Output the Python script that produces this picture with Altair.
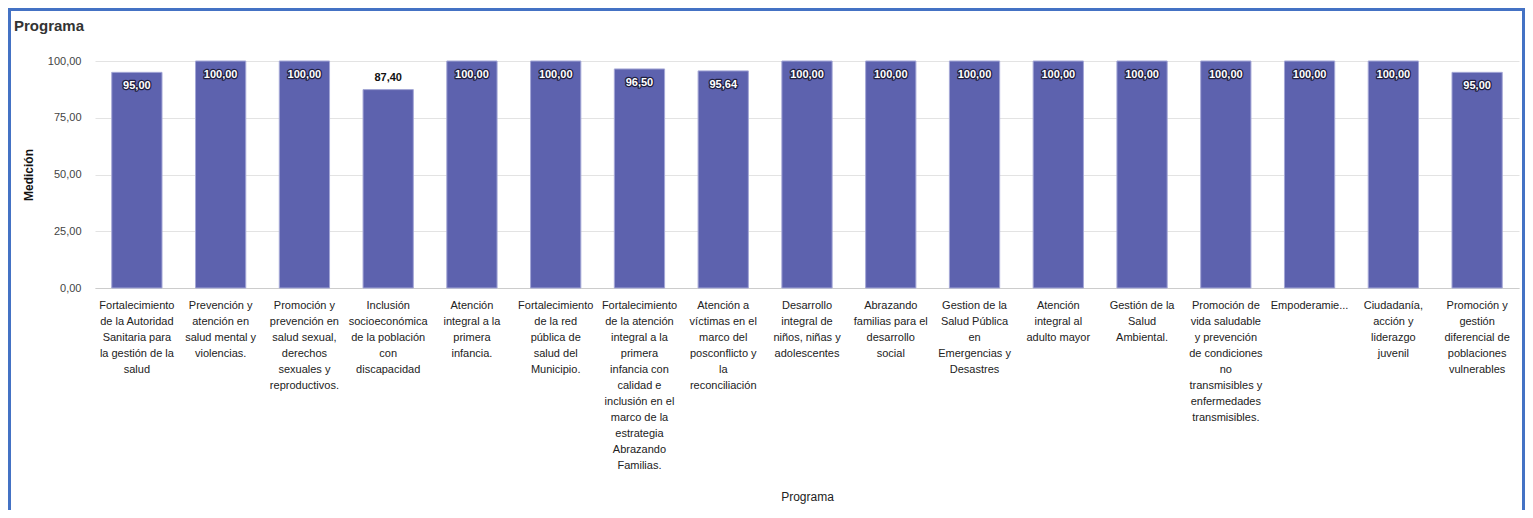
import altair as alt
import pandas as pd

programas = [
    "Fortalecimiento\nde la Autoridad\nSanitaria para\nla gestión de la\nsalud",
    "Prevención y\natención en\nsalud mental y\nviolencias.",
    "Promoción y\nprevención en\nsalud sexual,\nderechos\nsexuales y\nreproductivos.",
    "Inclusión\nsocioeconómica\nde la población\ncon\ndiscapacidad",
    "Atención\nintegral a la\nprimera\ninfancia.",
    "Fortalecimiento\nde la red\npública de\nsalud del\nMunicipio.",
    "Fortalecimiento\nde la atención\nintegral a la\nprimera\ninfancia con\ncalidad e\ninclusión en el\nmarco de la\nestrategia\nAbrazando\nFamilias.",
    "Atención a\nvíctimas en el\nmarco del\nposconflicto y\nla\nreconciliación",
    "Desarrollo\nintegral de\nniños, niñas y\nadolescentes",
    "Abrazando\nfamilias para el\ndesarrollo\nsocial",
    "Gestion de la\nSalud Pública\nen\nEmergencias y\nDesastres",
    "Atención\nintegral al\nadulto mayor",
    "Gestión de la\nSalud\nAmbiental.",
    "Promoción de\nvida saludable\ny prevención\nde condiciones\nno\ntransmisibles y\nenfermedades\ntransmisibles.",
    "Empoderamie...",
    "Ciudadanía,\nacción y\nliderazgo\njuvenil",
    "Promoción y\ngestión\ndiferencial de\npoblaciones\nvulnerables",
]
medicion = [95.00, 100.00, 100.00, 87.40, 100.00, 100.00, 96.50, 95.64, 100.00,
            100.00, 100.00, 100.00, 100.00, 100.00, 100.00, 100.00, 95.00]
y_ticks = [0, 25, 50, 75, 100]

df = pd.DataFrame({"Programa": programas, "Medicion": medicion})
df["etiqueta"] = df["Medicion"].map(lambda v: f"{v:.2f}".replace(".", ","))

FONT = "Liberation Sans"
W, H = 1424, 227

x_enc = alt.X(
    "Programa:N",
    sort=programas,
    scale=alt.Scale(paddingInner=0.4, paddingOuter=0.2),
    axis=alt.Axis(
        title="Programa",
        labelAngle=0,
        labelExpr="split(datum.label, '\\n')",
        labelLineHeight=16,
        labelFontSize=11,
        labelColor="#222222",
        labelFont=FONT,
        labelPadding=11,
        labelLimit=0,
        ticks=False,
        domainColor="#cccccc",
        titleFont=FONT,
        titleFontSize=12,
        titleFontWeight="normal",
        titleColor="#222222",
        titleY=208,
        titleBaseline="middle",
    ),
)
y_enc = alt.Y(
    "Medicion:Q",
    scale=alt.Scale(domain=[0, 100], nice=False),
    axis=alt.Axis(
        title="Medición",
        values=y_ticks,
        labelExpr="replace(format(datum.value, '.2f'), '.', ',')",
        labelFontSize=11,
        labelColor="#444444",
        labelFont=FONT,
        labelPadding=14,
        ticks=False,
        domain=False,
        gridColor="#e3e3e3",
        titleFont=FONT,
        titleFontSize=12,
        titleFontWeight="bold",
        titleColor="#111111",
        titleX=-67,
        titleY=H / 2,
        titleAngle=-90,
        titleAlign="center",
        titleBaseline="middle",
    ),
)

base = alt.Chart(df)

bars = base.mark_bar(color="#5d62ae", stroke="#a4a7d6", strokeWidth=1).encode(x=x_enc, y=y_enc)

inside = base.transform_filter("datum.Medicion >= 90")
halo = inside.mark_text(
    baseline="middle", dy=14, font=FONT, fontSize=11, fontWeight="bold",
    stroke="#1f1f3f", strokeWidth=2.5, strokeJoin="round", fill="#1f1f3f",
).encode(x=x_enc, y=y_enc, text="etiqueta:N")
inner = inside.mark_text(
    baseline="middle", dy=14, font=FONT, fontSize=11, fontWeight="bold", fill="#ffffff",
).encode(x=x_enc, y=y_enc, text="etiqueta:N")
outside = base.transform_filter("datum.Medicion < 90").mark_text(
    baseline="middle", dy=-12, font=FONT, fontSize=11, fontWeight="bold", fill="#111111",
).encode(x=x_enc, y=y_enc, text="etiqueta:N")

frame = alt.Chart(alt.Data(values=[{}])).mark_rect(
    fillOpacity=0, stroke="#4472c4", strokeWidth=3
).encode(
    x=alt.value(-85.5), x2=alt.value(W + 4.5),
    y=alt.value(-51.5), y2=alt.value(H + 240),
)

chart = alt.layer(frame, bars, halo, inner, outside).properties(
    width=W,
    height=H,
    autosize=alt.AutoSizeParams(type="none"),
    padding={"left": 87, "top": 53, "right": 6, "bottom": 222},
    title=alt.TitleParams(
        text="Programa", anchor="start", frame="group", dx=-81, dy=33, offset=0,
        baseline="middle",
        font=FONT, fontSize=15, fontWeight="bold", color="#333333",
    ),
).configure_view(stroke=None)

chart.save("out.html", embed_options={"renderer": "svg", "actions": False})
